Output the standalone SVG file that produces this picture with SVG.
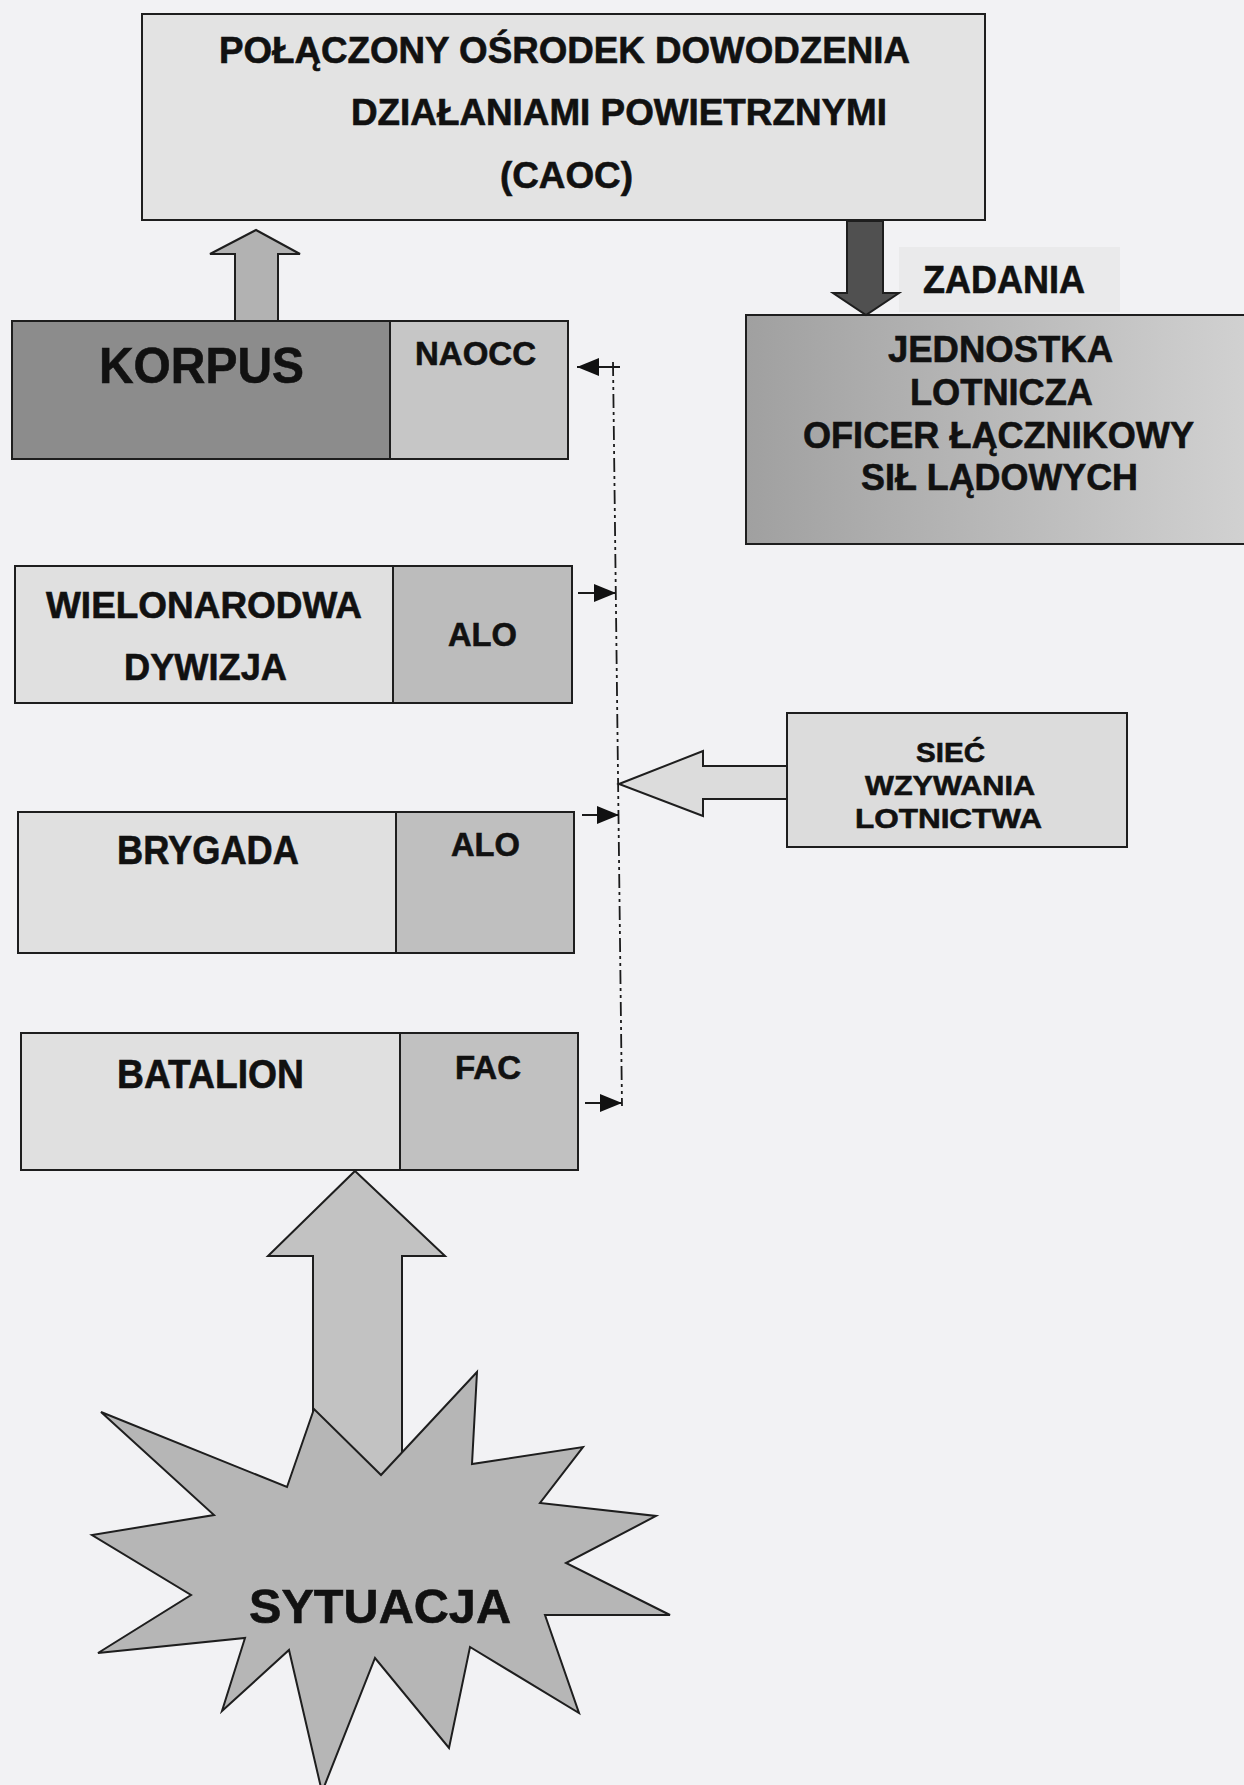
<svg xmlns="http://www.w3.org/2000/svg" width="1244" height="1785" viewBox="0 0 1244 1785">
<style>
.box{stroke:#1e1e1e;stroke-width:2}
.t{font-family:"Liberation Sans",Arial,sans-serif;font-weight:bold;fill:#111;stroke:#111;stroke-width:0.6}
.arr{stroke:#1e1e1e;stroke-width:2;stroke-linejoin:miter}
.conn{stroke:#1a1a1a;stroke-width:1.8;fill:none}
</style>
<defs>
<linearGradient id="gJed" x1="0" y1="0" x2="1" y2="0">
<stop offset="0" stop-color="#a0a0a0"/>
<stop offset="1" stop-color="#d2d2d2"/>
</linearGradient>
<marker id="ah" viewBox="0 0 22 18" refX="22" refY="9" markerWidth="22" markerHeight="18" markerUnits="userSpaceOnUse" orient="auto">
<path d="M0,0 L22,9 L0,18 z" fill="#111"/>
</marker>
</defs>
<rect x="0" y="0" width="1244" height="1785" fill="#f2f2f4"/>

<g id="caoc">
<rect class="box" x="142" y="14" width="843" height="206" fill="#e3e3e3"/>
<text class="t" x="219" y="63" font-size="36" textLength="691" lengthAdjust="spacingAndGlyphs">POŁĄCZONY OŚRODEK DOWODZENIA</text>
<text class="t" x="351" y="125" font-size="36" textLength="536" lengthAdjust="spacingAndGlyphs">DZIAŁANIAMI POWIETRZNYMI</text>
<text class="t" x="500" y="188" font-size="36" textLength="133" lengthAdjust="spacingAndGlyphs">(CAOC)</text>
</g>

<g id="korpus">
<rect class="box" x="12" y="321" width="378" height="138" fill="#8c8c8c"/>
<rect class="box" x="390" y="321" width="178" height="138" fill="#c6c6c6"/>
<text class="t" x="99" y="383" font-size="50" textLength="205" lengthAdjust="spacingAndGlyphs">KORPUS</text>
<text class="t" x="415" y="365" font-size="34" textLength="121" lengthAdjust="spacingAndGlyphs">NAOCC</text>
</g>

<g id="zadania-label">
<rect x="899" y="247" width="221" height="65" fill="#eaeaeb"/>
<text class="t" x="923" y="293" font-size="39" textLength="162" lengthAdjust="spacingAndGlyphs">ZADANIA</text>
</g>

<g id="jednostka">
<rect class="box" x="746" y="315" width="510" height="229" fill="url(#gJed)"/>
<text class="t" x="888" y="362" font-size="36" textLength="225" lengthAdjust="spacingAndGlyphs">JEDNOSTKA</text>
<text class="t" x="910" y="405" font-size="36" textLength="183" lengthAdjust="spacingAndGlyphs">LOTNICZA</text>
<text class="t" x="803" y="448" font-size="36" textLength="391" lengthAdjust="spacingAndGlyphs">OFICER ŁĄCZNIKOWY</text>
<text class="t" x="861" y="490" font-size="36" textLength="277" lengthAdjust="spacingAndGlyphs">SIŁ LĄDOWYCH</text>
</g>

<g id="dywizja">
<rect class="box" x="15" y="566" width="378" height="137" fill="#e0e0e0"/>
<rect class="box" x="393" y="566" width="179" height="137" fill="#bcbcbc"/>
<text class="t" x="46" y="618" font-size="37" textLength="316" lengthAdjust="spacingAndGlyphs">WIELONARODWA</text>
<text class="t" x="124" y="680" font-size="37" textLength="163" lengthAdjust="spacingAndGlyphs">DYWIZJA</text>
<text class="t" x="448" y="646" font-size="34" textLength="69" lengthAdjust="spacingAndGlyphs">ALO</text>
</g>

<g id="siec">
<polygon class="arr" points="619,784 703,751 703,766 789,766 789,799 703,799 703,816" fill="#dcdcdc"/>
<rect class="box" x="787" y="713" width="340" height="134" fill="#dcdcdc"/>
<text class="t" x="916" y="762" font-size="28" textLength="69" lengthAdjust="spacingAndGlyphs">SIEĆ</text>
<text class="t" x="865" y="795" font-size="28" textLength="170" lengthAdjust="spacingAndGlyphs">WZYWANIA</text>
<text class="t" x="855" y="828" font-size="28" textLength="187" lengthAdjust="spacingAndGlyphs">LOTNICTWA</text>
</g>

<g id="brygada">
<rect class="box" x="18" y="812" width="378" height="141" fill="#e0e0e0"/>
<rect class="box" x="396" y="812" width="178" height="141" fill="#bfbfbf"/>
<text class="t" x="117" y="864" font-size="40" textLength="182" lengthAdjust="spacingAndGlyphs">BRYGADA</text>
<text class="t" x="451" y="856" font-size="34" textLength="69" lengthAdjust="spacingAndGlyphs">ALO</text>
</g>

<g id="batalion">
<rect class="box" x="21" y="1033" width="379" height="137" fill="#e0e0e0"/>
<rect class="box" x="400" y="1033" width="178" height="137" fill="#c1c1c1"/>
<text class="t" x="117" y="1088" font-size="40" textLength="187" lengthAdjust="spacingAndGlyphs">BATALION</text>
<text class="t" x="455" y="1079" font-size="33" textLength="66" lengthAdjust="spacingAndGlyphs">FAC</text>
</g>

<g id="connectors">
<polygon class="arr" points="256,230 300,254 278,254 278,321 235,321 235,254 210,254" fill="#b2b2b2"/>
<polygon class="arr" points="847,221 883,221 883,293 899,293 866,315 833,293 847,293" fill="#505050" stroke="#2a2a2a"/>
<polygon class="arr" points="355,1171 445,1256 402,1256 402,1480 313,1480 313,1256 268,1256" fill="#c2c2c2"/>
<path class="conn" d="M613,362 L622,1106" stroke-dasharray="14 4 3 4 3 4"/>
<line class="conn" x1="620" y1="367" x2="577" y2="367" marker-end="url(#ah)"/>
<line class="conn" x1="578" y1="593" x2="616" y2="593" marker-end="url(#ah)"/>
<line class="conn" x1="582" y1="815" x2="619" y2="815" marker-end="url(#ah)"/>
<line class="conn" x1="585" y1="1103" x2="622" y2="1103" marker-end="url(#ah)"/>
</g>

<g id="sytuacja">
<polygon class="arr" fill="#b6b6b6" points="101,1412 287,1487 314,1409 381,1475 477,1372 472,1464 583,1447 540,1503 656,1516 566,1563 670,1615 545,1615 579,1713 470,1647 449,1748 375,1658 322,1792 289,1650 222,1711 245,1638 98,1653 191,1595 92,1535 214,1515"/>
<text class="t" x="249" y="1623" font-size="49" textLength="262" lengthAdjust="spacingAndGlyphs">SYTUACJA</text>
</g>
</svg>
